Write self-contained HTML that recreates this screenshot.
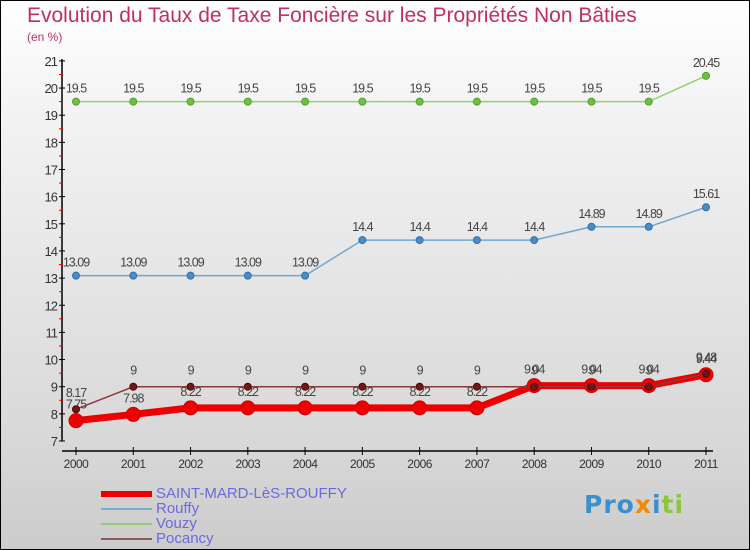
<!DOCTYPE html>
<html><head><meta charset="utf-8"><style>
body{margin:0}
#c{position:relative;width:748px;height:548px;border:1px solid #000;background:linear-gradient(#ffffff,#f3f3f3 20%,#d8d8d8 80%,#cccccc);font-family:"Liberation Sans",sans-serif;overflow:hidden}
.t{position:absolute;left:26px;top:3px;font-size:21px;color:#c0305a;white-space:nowrap;font-weight:normal}
.s{position:absolute;left:26px;top:29px;font-size:12px;color:#c0305a}
svg{position:absolute;left:0;top:0}
.leg{position:absolute;left:155px;font-size:15px;color:#6a6adf;line-height:15px}
</style></head><body>
<div id="c">
<div class="t">Evolution du Taux de Taxe Foncière sur les Propriétés Non Bâties</div>
<div class="s">(en %)</div>
<svg id="g" width="750" height="550"></svg>
<div class="leg" style="top:485px">SAINT-MARD-LèS-ROUFFY</div>
<div class="leg" style="top:500px">Rouffy</div>
<div class="leg" style="top:515px">Vouzy</div>
<div class="leg" style="top:530px">Pocancy</div>
<div style="position:absolute;left:583px;top:489px;font-size:25px;font-weight:bold;letter-spacing:1px;font-family:'DejaVu Sans',sans-serif"><span style="color:#3a8fd0">Pro</span><span style="color:#f08a00">x</span><span style="color:#3a8fd0">i</span><span style="color:#8cc63f">ti</span></div>
</div>
<script>
const years=[2000,2001,2002,2003,2004,2005,2006,2007,2008,2009,2010,2011];
const yTicks=[7,8,9,10,11,12,13,14,15,16,17,18,19,20,21];
const saintMard=[7.75,7.98,8.22,8.22,8.22,8.22,8.22,8.22,9.04,9.04,9.04,9.44];
const rouffy=[13.09,13.09,13.09,13.09,13.09,14.4,14.4,14.4,14.4,14.89,14.89,15.61];
const vouzy=[19.5,19.5,19.5,19.5,19.5,19.5,19.5,19.5,19.5,19.5,19.5,20.45];
const pocancy=[8.17,9,9,9,9,9,9,9,9,9,9,9.48];
const NS="http://www.w3.org/2000/svg",g=document.getElementById('g');
const X=i=>75+i*(630/11), Y=v=>440-(v-7)*27.15;
function el(t,a,p){const e=document.createElementNS(NS,t);for(const k in a)e.setAttribute(k,a[k]);(p||g).appendChild(e);return e;}
let ax=el('line',{x1:61,y1:58,x2:61,y2:440,stroke:'#000','stroke-width':1.5});

let bx=el('line',{x1:61,y1:450,x2:712,y2:450,stroke:'#000','stroke-width':1.5});

yTicks.forEach(v=>{el('line',{x1:58,x2:64,y1:Y(v),y2:Y(v),stroke:'#000'});
 if(v<21)el('line',{x1:58,x2:62,y1:Y(v+0.5),y2:Y(v+0.5),stroke:'#e00'});
 const t=el('text',{x:56,y:Y(v)+5,'text-anchor':'end','font-size':13,fill:'#333','letter-spacing':-1});t.textContent=v;
 });
years.forEach((yr,i)=>{el('line',{x1:X(i),x2:X(i),y1:446,y2:454,stroke:'#000'});
 const t=el('text',{x:X(i),y:467,'text-anchor':'middle','font-size':12,fill:'#333','letter-spacing':-0.5});t.textContent=yr;
 });
function series(d,name,col,w,r,fill,stroke,lblDy){
 const grp=el('g',{});
 el('polyline',{points:d.map((v,i)=>X(i)+','+Y(v)).join(' '),fill:'none',stroke:col,'stroke-width':w,'stroke-linejoin':'round'},grp);
 d.forEach((v,i)=>{const c=el('circle',{cx:X(i),cy:Y(v),r:r,fill:fill,stroke:stroke,'stroke-width':1},grp);
  
  const t=el('text',{x:X(i),y:Y(v)+lblDy,'text-anchor':'middle','font-size':12.5,fill:'#444','letter-spacing':-1},grp);t.textContent=v;});
}
series(vouzy,'vouzy','#90d070',1.5,3.5,'#70c040','#50a030',-9);
series(rouffy,'rouffy','#70a8d0',1.5,3.5,'#4a8cc8','#3070a8',-9);
series(saintMard,'saint-mard','#ee0000',7,7,'#ee0000','#cc0000',-12);
series(pocancy,'pocancy','#8a3a3a',1.5,3.5,'#6a1a1a','#500',-12);
[['#ee0000',6,493,'legend-line-saint-mard'],['#7aaccc',2,508,'legend-line-rouffy'],['#90d070',2,523,'legend-line-vouzy'],['#8a5a5a',2,538,'legend-line-pocancy']].forEach(l=>{
 const e=el('line',{x1:100,x2:151,y1:l[2],y2:l[2],stroke:l[0],'stroke-width':l[1]});
 });
</script>
</body></html>
